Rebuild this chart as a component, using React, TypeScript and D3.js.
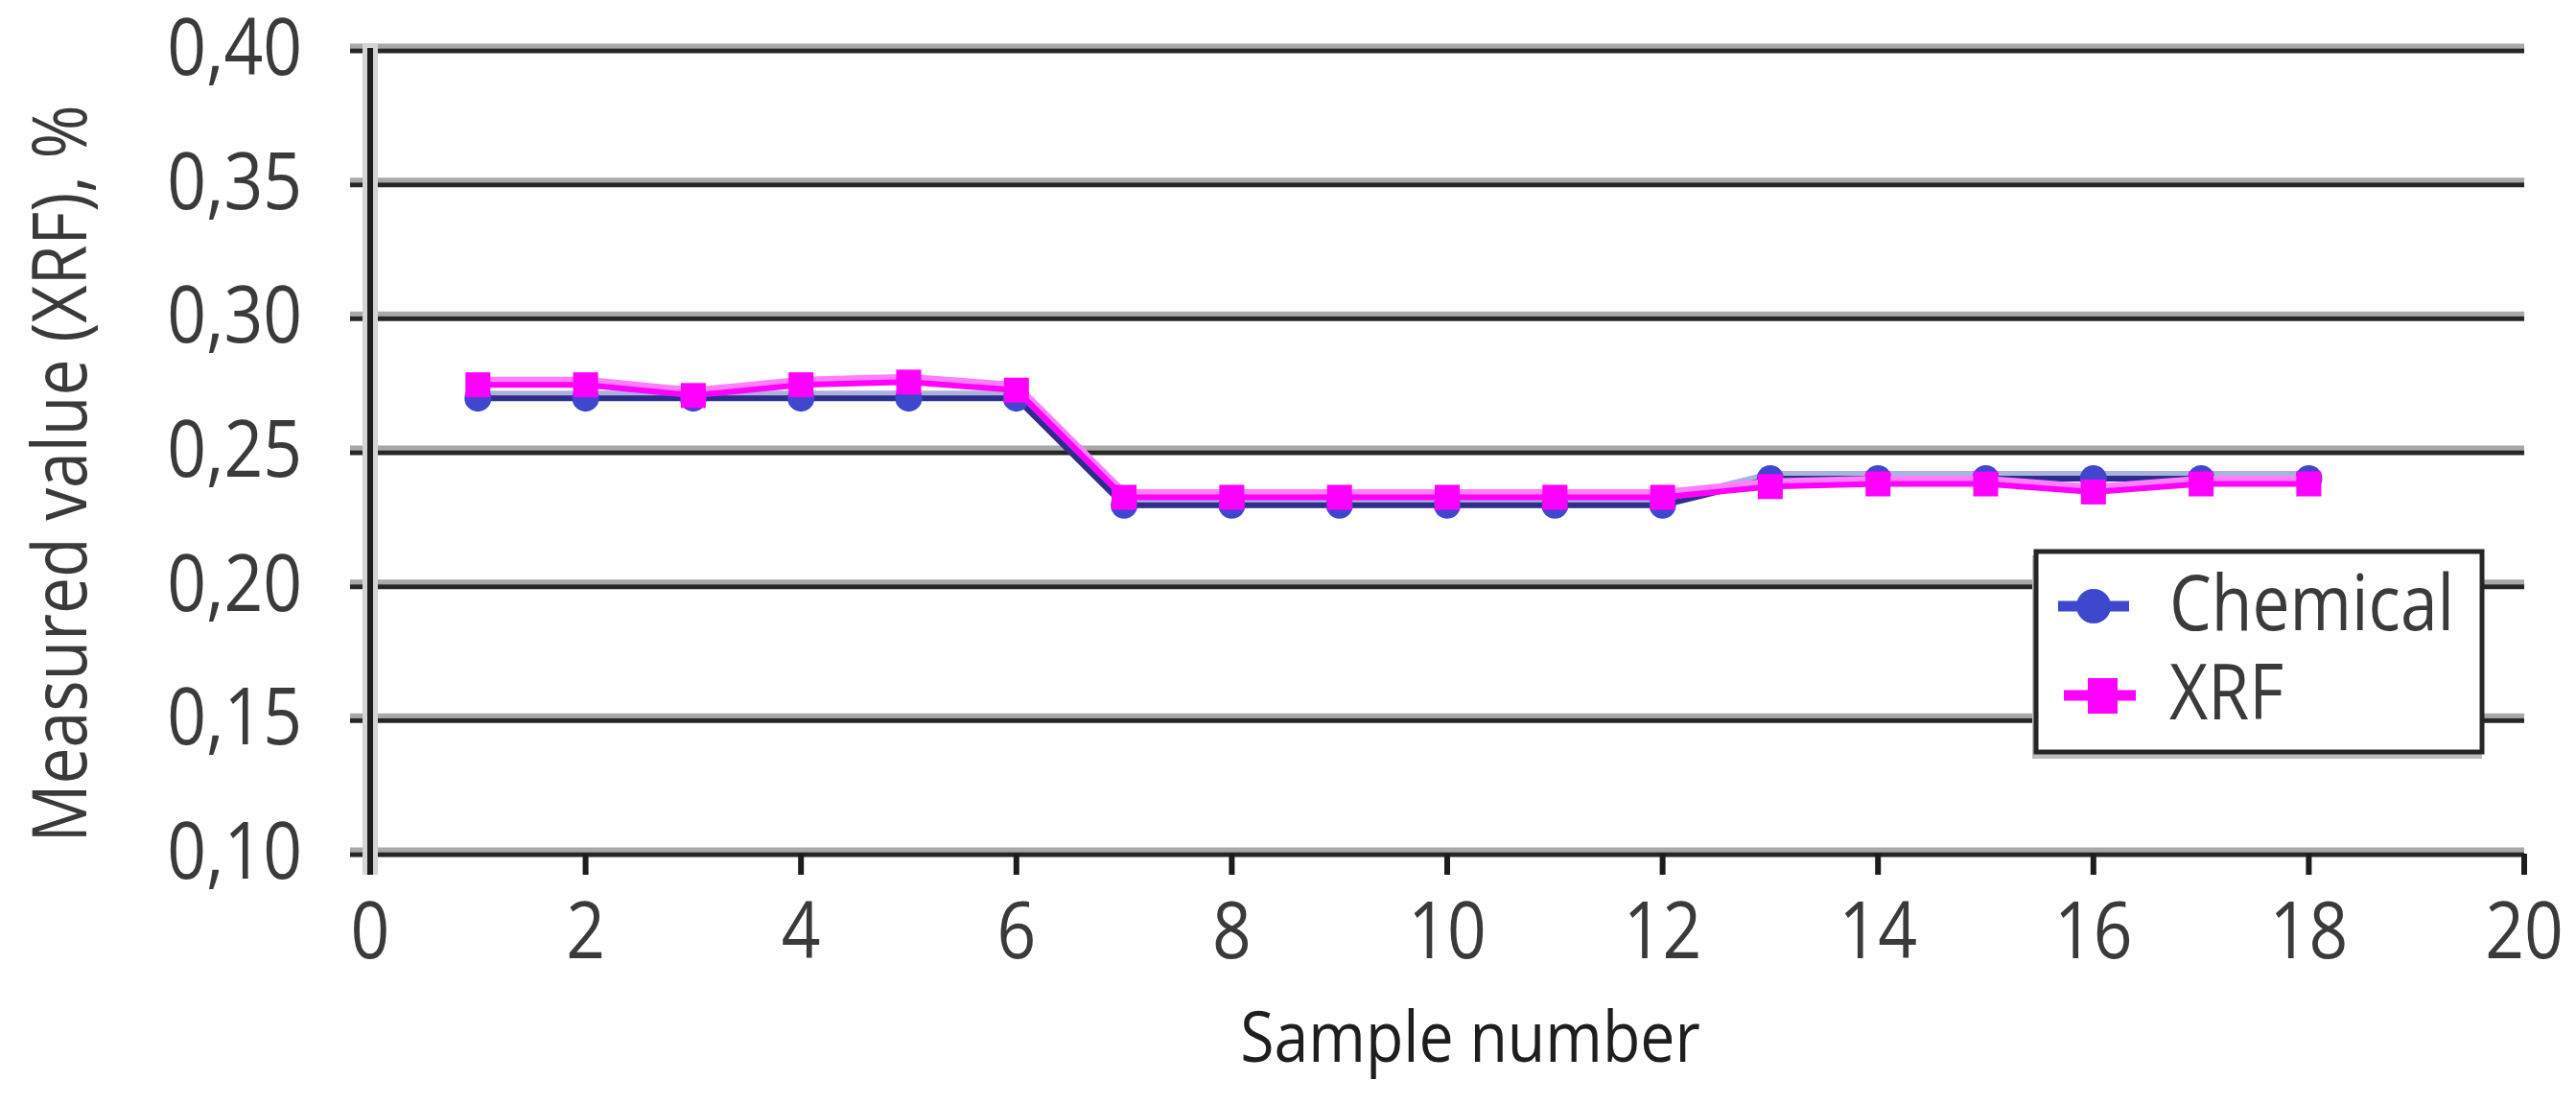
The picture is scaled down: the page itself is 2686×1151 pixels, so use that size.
import * as d3 from "d3";
import React from "react";

const sampleNumbers = [1, 2, 3, 4, 5, 6, 7, 8, 9, 10, 11, 12, 13, 14, 15, 16, 17, 18];
const chemical = [
	0.27, 0.27, 0.27, 0.27, 0.27, 0.27, 0.23, 0.23, 0.23, 0.23, 0.23, 0.23, 0.24,
	0.24, 0.24, 0.24, 0.24, 0.24,
];
const xrf = [
	0.275, 0.275, 0.271, 0.275, 0.276, 0.273, 0.233, 0.233, 0.233, 0.233, 0.233,
	0.233, 0.237, 0.238, 0.238, 0.235, 0.238, 0.238,
];
const xTicks = [0, 2, 4, 6, 8, 10, 12, 14, 16, 18, 20];
const yTicks = [0.1, 0.15, 0.2, 0.25, 0.3, 0.35, 0.4];
const seriesNames = ["Chemical", "XRF"];

const W = 2686;
const H = 1151;
const FONT = "'Open Sans', 'Noto Sans', sans-serif";
const SQUEEZE = 0.87;

const BLUE_LINE = "#2d2d8e";
const BLUE_MARK = "#3f47cf";
const PINK = "#ff00ff";

export default function App() {
	const x = d3.scaleLinear().domain([0, 20]).range([386, 2632]);
	const y = d3.scaleLinear().domain([0.1, 0.4]).range([890, 52]);

	const line = (vals: number[]) =>
		d3
			.line<number>()
			.x((_, i) => x(sampleNumbers[i]))
			.y((v) => y(v))(vals) ?? "";

	const fmt = (v: number) => v.toFixed(2).replace(".", ",");

	return (
		<svg
			width={W}
			height={H}
			style={{ position: "absolute", left: 0, top: 0, background: "#fff" }}
			fontFamily={FONT}
		>
			{/* grid lines (incl. bottom axis) */}
			{yTicks.map((t) => (
				<g key={t}>
					<line x1={365} x2={x(20)} y1={y(t) - 4} y2={y(t) - 4} stroke="#a8a8a8" strokeWidth={5} />
					<line x1={365} x2={x(20)} y1={y(t) + 1} y2={y(t) + 1} stroke="#262626" strokeWidth={5} />
				</g>
			))}

			{/* y axis */}
			<line x1={x(0)} x2={x(0)} y1={y(0.4) - 6} y2={y(0.1) + 22} stroke="#d4d4d4" strokeWidth={16} />
			<line x1={x(0)} x2={x(0)} y1={y(0.4) - 2} y2={y(0.1) + 22} stroke="#1c1c1c" strokeWidth={6} />

			{/* x ticks */}
			{xTicks.map((t) => (
				<line key={t} x1={x(t)} x2={x(t)} y1={y(0.1)} y2={y(0.1) + 22} stroke="#1c1c1c" strokeWidth={6} />
			))}

			{/* y tick labels */}
			{yTicks.map((t) => (
				<text
					key={t}
					transform={`translate(315, ${y(t) + 26}) scale(${SQUEEZE}, 1)`}
					textAnchor="end"
					fontSize={82}
					fill="#3a3a3a"
				>
					{fmt(t)}
				</text>
			))}

			{/* x tick labels */}
			{xTicks.map((t) => (
				<text
					key={t}
					transform={`translate(${x(t)}, 999) scale(${SQUEEZE}, 1)`}
					textAnchor="middle"
					fontSize={82}
					fill="#3a3a3a"
				>
					{t}
				</text>
			))}

			{/* axis titles */}
			<text
				transform={`translate(1533, 1107) scale(${SQUEEZE}, 1)`}
				textAnchor="middle"
				fontSize={74}
				fill="#1e1e1e"
			>
				Sample number
			</text>
			<text
				transform={`translate(90, 494) rotate(-90) scale(${SQUEEZE}, 1)`}
				textAnchor="middle"
				fontSize={78}
				fill="#3a3a3a"
			>
				Measured value (XRF), %
			</text>

			{/* Chemical series */}
			<path d={line(chemical)} fill="none" stroke="#aab3dc" strokeWidth={6} transform="translate(0,-5)" />
			<path d={line(chemical)} fill="none" stroke={BLUE_LINE} strokeWidth={6} />
			{chemical.map((v, i) => (
				<circle key={i} cx={x(sampleNumbers[i])} cy={y(v)} r={14} fill={BLUE_MARK} />
			))}

			{/* XRF series */}
			<path d={line(xrf)} fill="none" stroke="#ff80ff" strokeWidth={7} transform="translate(0,-5)" />
			<path d={line(xrf)} fill="none" stroke={PINK} strokeWidth={6} />
			{xrf.map((v, i) => (
				<rect
					key={i}
					x={x(sampleNumbers[i]) - 13}
					y={y(v) - 13}
					width={26}
					height={26}
					fill={PINK}
				/>
			))}

			{/* legend */}
			<g>
				<rect x={2119} y={579} width={469} height={212} fill="#bdbdbd" />
				<rect x={2123} y={575} width={465} height={209} fill="#fff" stroke="#262626" strokeWidth={5} />
				{seriesNames.map((name, i) => {
					const cy = 632 + i * 93;
					const isChem = i === 0;
					return (
						<g key={name}>
							<line
								x1={isChem ? 2146 : 2152}
								x2={isChem ? 2220 : 2227}
								y1={cy}
								y2={cy}
								stroke={isChem ? BLUE_MARK : PINK}
								strokeWidth={11}
							/>
							{isChem ? (
								<circle cx={2183} cy={cy} r={18} fill={BLUE_MARK} />
							) : (
								<rect x={2177} y={cy - 18} width={31} height={37} fill={PINK} />
							)}
							<text
								transform={`translate(2262, ${cy + 25}) scale(${SQUEEZE}, 1)`}
								fontSize={80}
								fill="#3a3a3a"
							>
								{name}
							</text>
						</g>
					);
				})}
			</g>
		</svg>
	);
}
